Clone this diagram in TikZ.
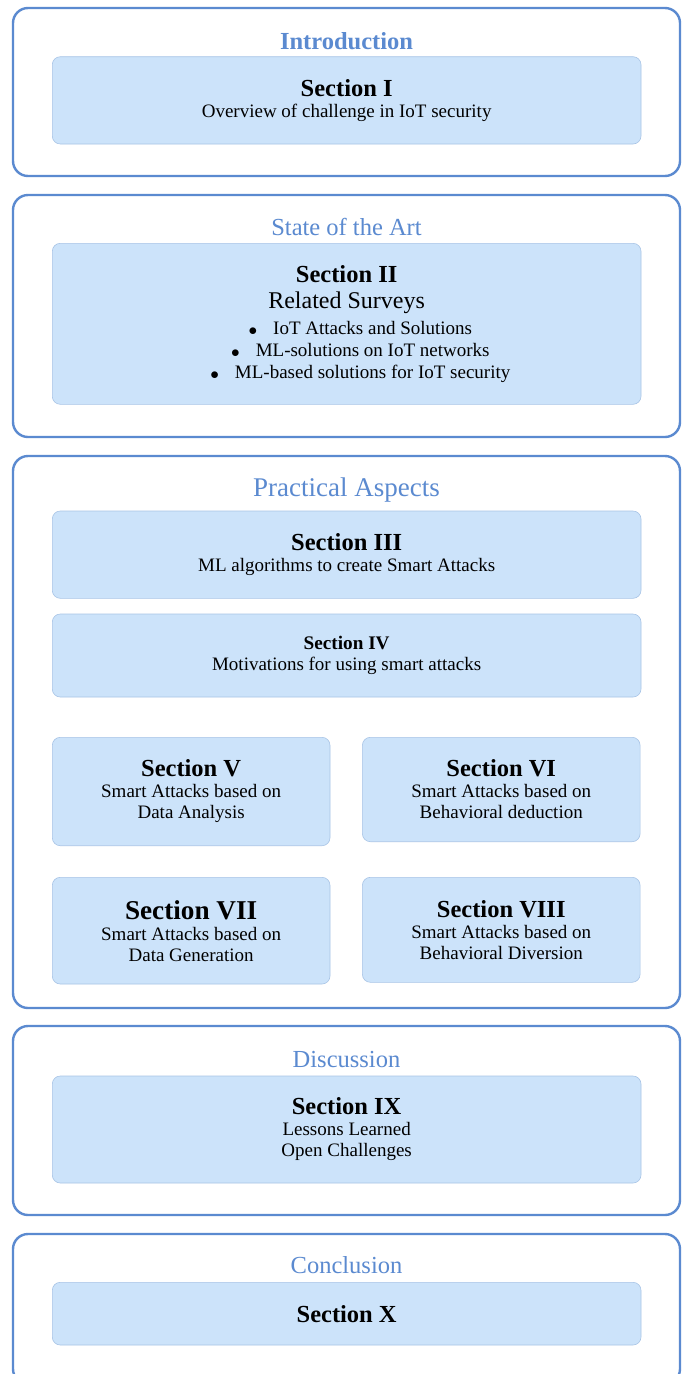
\documentclass[tikz,border=0pt]{standalone}
\usepackage{fontspec}
\setmainfont{Liberation Serif}
\definecolor{frameblue}{HTML}{5B8AD0}
\definecolor{boxfill}{HTML}{CCE3FA}
\definecolor{boxline}{HTML}{A8C4E6}
\newcommand{\hdfont}{\fontsize{24.5}{26}\bfseries\selectfont}
\newcommand{\bitem}[1]{\hspace*{52pt}\makebox[0pt][r]{\raisebox{-1.4pt}{$\bullet$}\hspace{16pt}}#1}
\begin{document}
\begin{tikzpicture}[x=1pt,y=-1pt,
  frame/.style={draw=frameblue, line width=2.4pt, rounded corners=15pt, anchor=north west,
    minimum width=667pt, inner sep=0pt, outer sep=0pt},
  title/.style={anchor=base, text=frameblue, font=\fontsize{24.5}{26}\selectfont, inner sep=0pt},
  sect/.style={draw=boxline, line width=0.6pt, fill=boxfill, rounded corners=8pt,
    anchor=north west, align=center, font=\fontsize{19}{21}\selectfont, inner sep=0pt,
    outer sep=0pt, text=black},
  wide/.style={minimum width=588.7pt},
  half/.style={minimum width=277.7pt}
]
\useasboundingbox (0,0) rectangle (683,1374);
\clip (0,0) rectangle (683,1374);
\fill[white] (0,0) rectangle (683,1374);

% outer frames
\node[frame, minimum height=168pt] (fr1) at (13,8) {};
\node[frame, minimum height=242pt] (fr2) at (13,195) {};
\node[frame, minimum height=552pt] (fr3) at (13,456) {};
\node[frame, minimum height=189pt] (fr4) at (13,1026) {};
\node[frame, minimum height=150pt] (fr5) at (13,1234) {};

% titles
\node[title, font=\fontsize{24.5}{26}\bfseries\selectfont] (t1) at (346.5,49) {Introduction};
\node[title] (t2) at (346.5,235) {State of the Art};
\node[title, font=\fontsize{27}{30}\selectfont] (t3) at (346.5,496.7) {Practical Aspects};
\node[title] (t4) at (346.5,1067) {Discussion};
\node[title] (t5) at (346.5,1273.3) {Conclusion};

% sections
\node[sect, wide, minimum height=87.3pt] (s1) at (52.3,56.7)
  {{\hdfont Section I}\\Overview of challenge in IoT security};
\node[sect, wide, minimum height=161pt, font=\fontsize{19}{22}\selectfont] (s2) at (52.3,243.3)
  {{\hdfont Section II}\\[4.4pt]{\fontsize{24}{26}\selectfont Related Surveys}\\[3.6pt]
   \bitem{IoT Attacks and Solutions}\\\bitem{ML-solutions on IoT networks}\\
   \bitem{ML-based solutions for IoT security}};
\node[sect, wide, minimum height=87.3pt] (s3) at (52.3,511)
  {{\hdfont Section III}\\ML algorithms to create Smart Attacks};
\node[sect, wide, minimum height=83pt] (s4) at (52.3,614)
  {{\fontsize{19.2}{21}\bfseries\selectfont Section IV}\\Motivations for using smart attacks};
\node[sect, half, minimum height=108.4pt] (s5) at (52.3,737.3)
  {{\hdfont Section V}\\Smart Attacks based on\\Data Analysis};
\node[sect, half, minimum height=104.4pt] (s6) at (362.4,737.3)
  {{\hdfont Section VI}\\Smart Attacks based on\\Behavioral deduction};
\node[sect, half, minimum height=106.7pt] (s7) at (52.3,877.3)
  {{\fontsize{27.2}{29}\bfseries\selectfont Section VII}\\Smart Attacks based on\\Data Generation};
\node[sect, half, minimum height=105pt] (s8) at (362.4,877.3)
  {{\hdfont Section VIII}\\Smart Attacks based on\\Behavioral Diversion};
\node[sect, wide, minimum height=107pt] (s9) at (52.3,1076)
  {{\hdfont Section IX}\\Lessons Learned\\Open Challenges};
\node[sect, wide, minimum height=62.7pt] (s10) at (52.3,1282.3)
  {{\hdfont Section X}};
\end{tikzpicture}
\end{document}
